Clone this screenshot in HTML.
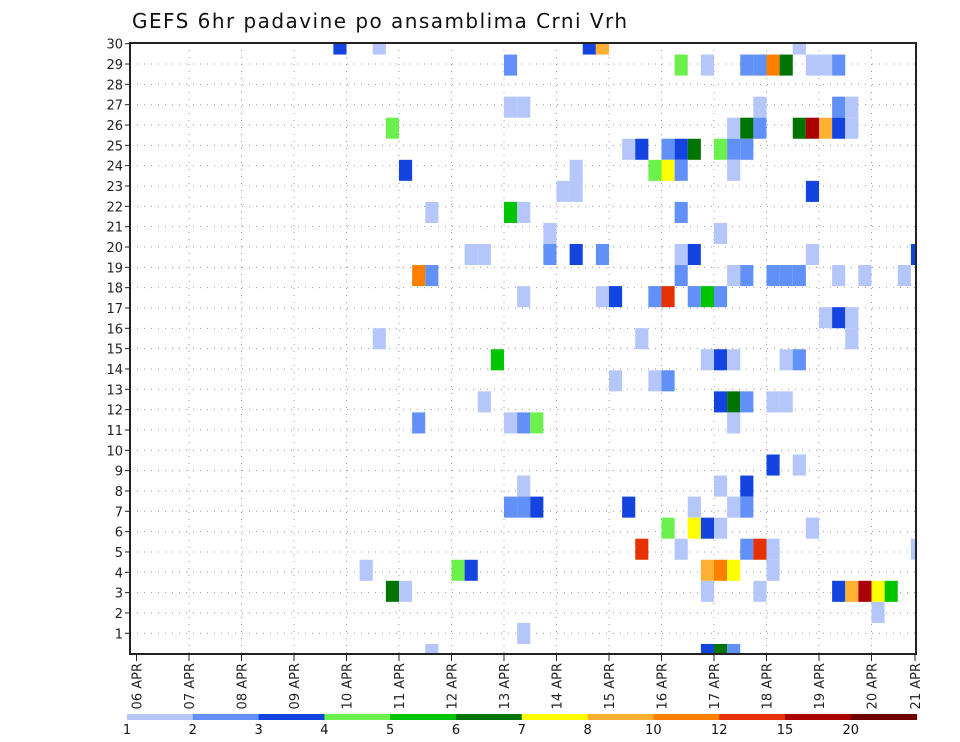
<!DOCTYPE html>
<html><head><meta charset="utf-8"><style>
html,body{margin:0;padding:0;background:#fff;}
svg{display:block;font-family:"DejaVu Sans","Liberation Sans",sans-serif;}
</style></head><body>
<svg id="chart" width="960" height="742" viewBox="0 0 960 742" xmlns="http://www.w3.org/2000/svg">
<text x="132" y="28" font-size="20" textLength="495" lengthAdjust="spacing" fill="#111">GEFS 6hr padavine po ansamblima Crni Vrh</text>
<g id="grid"></g>
<g id="cells"></g>
<rect x="130" y="43" width="786" height="611" fill="none" stroke="#222" stroke-width="2"/>
<g id="yaxis"></g>
<g id="xaxis"></g>
<g id="legend"></g>
</svg>
<script>
// data: member row (0 = top), 6-hour step index from 06 APR 00Z, precip value (mm)
const cellMember = [0,0,0,0,0, 1,1,1,1,1,1,1,1,1,1, 3,3,3,3,3, 4,4,4,4,4,4,4,4,4, 5,5,5,5,5,5,5,5, 6,6,6,6,6,6, 7,7,7, 8,8,8,8, 9,9, 10,10,10,10,10,10,10,10,10, 11,11,11,11,11,11,11,11,11,11,11, 12,12,12,12,12,12,12,12, 13,13,13, 14,14,14, 15,15,15,15,15,15, 16,16,16, 17,17,17,17,17,17, 18,18,18,18,18, 20,20, 21,21,21, 22,22,22,22,22,22,22, 23,23,23,23,23, 24,24,24,24,24,24, 25,25,25,25,25,25,25, 26,26,26,26,26,26,26,26,26, 27, 28, 29,29,29,29];
const cellStep = [15,18,34,35,50, 28,41,43,46,47,48,49,51,52,53, 28,29,47,53,54, 19,45,46,47,50,51,52,53,54, 37,38,40,41,42,44,45,46, 20,33,39,40,41,45, 32,33,51, 22,28,29,41, 31,44, 25,26,31,33,35,41,42,51,59, 21,22,41,45,46,48,49,50,53,55,58, 29,35,36,39,40,42,43,44, 52,53,54, 18,38,54, 27,43,44,45,49,50, 36,39,40, 26,44,45,46,48,49, 21,28,29,30,45, 48,50, 29,44,46, 28,29,30,37,42,45,46, 40,42,43,44,51, 38,41,46,47,48,59, 17,24,25,43,44,45,48, 19,20,43,47,53,54,55,56,57, 56, 29, 22,43,44,45];
const cellValue = [3.5,1.5,3.5,9,1.5, 2.5,4.5,1.5,2.5,2.5,11,6.5,1.5,1.5,2.5, 1.5,1.5,1.5,2.5,1.5, 4.5,1.5,6.5,2.5,6.5,17,9,3.5,1.5, 1.5,3.5,2.5,3.5,6.5,4.5,2.5,2.5, 3.5,1.5,4.5,7.5,2.5,1.5, 1.5,1.5,3.5, 1.5,5.5,1.5,2.5, 1.5,1.5, 1.5,1.5,2.5,3.5,2.5,1.5,3.5,1.5,3.5, 11,2.5,2.5,1.5,2.5,2.5,2.5,2.5,1.5,1.5,1.5, 1.5,1.5,3.5,2.5,13,2.5,5.5,2.5, 1.5,3.5,1.5, 1.5,1.5,1.5, 5.5,1.5,3.5,1.5,1.5,2.5, 1.5,1.5,2.5, 1.5,3.5,6.5,2.5,1.5,1.5, 2.5,1.5,2.5,4.5,1.5, 3.5,1.5, 1.5,1.5,3.5, 2.5,2.5,3.5,3.5,1.5,1.5,2.5, 4.5,7.5,3.5,1.5,1.5, 13,1.5,2.5,13,1.5,1.5, 1.5,4.5,3.5,9,11,7.5,1.5, 6.5,1.5,1.5,1.5,3.5,9,17,7.5,5.5, 1.5, 1.5, 1.5,3.5,6.5,2.5];
const levels = [1,2,3,4,5,6,7,8,10,12,15,20];
const levelColors = ["#b4c6fa","#6090f8","#1444e0","#6cf04c","#00c400","#007400","#ffff00","#ffb030","#ff8000","#e63200","#ac0000","#700000"];
const dayLabels = ["06","07","08","09","10","11","12","13","14","15","16","17","18","19","20","21"];
const memberLabels = [30,29,28,27,26,25,24,23,22,21,20,19,18,17,16,15,14,13,12,11,10,9,8,7,6,5,4,3,2,1];

const NS="http://www.w3.org/2000/svg";
const X0=136.5, DAY=52.5, STEP=DAY/4;
const xDay = d => X0 + d*DAY;
const xStep = s => X0 + s*STEP;
const ROWH=21.05, ROW0=33.5;
const yMember = k => ROW0 + k*ROWH;
const yLabel = i => 43.7 + i*20.33;
const colorFor = v => { let i=0; for(let j=0;j<levels.length;j++){ if(v>=levels[j]) i=j; } return levelColors[i]; };
function mk(tag, attrs, parent){ const e=document.createElementNS(NS,tag); for(const k in attrs) e.setAttribute(k,attrs[k]); parent.appendChild(e); return e; }

const grid=document.getElementById('grid');
for(let i=1;i<=30;i++){
  const l=mk('line',{x1:130,x2:916,y1:yLabel(i),y2:yLabel(i),stroke:'#999','stroke-width':1,'stroke-dasharray':'1,6'},grid);
  
  
}
for(let d=1;d<15;d++){
  const l=mk('line',{x1:xDay(d),x2:xDay(d),y1:43,y2:654,stroke:'#999','stroke-width':1,'stroke-dasharray':'1,6'},grid);
  
  
}

const cells=document.getElementById('cells');
mk('clipPath',{id:'pc'},cells).appendChild(Object.assign(document.createElementNS(NS,'rect'),{}));
document.querySelector('#pc rect').setAttribute('x',130);
document.querySelector('#pc rect').setAttribute('y',43);
document.querySelector('#pc rect').setAttribute('width',786);
document.querySelector('#pc rect').setAttribute('height',611);
const cg=mk('g',{'clip-path':'url(#pc)'},cells);
for(let i=0;i<cellValue.length;i++){
  const r=mk('rect',{x:xStep(cellStep[i]),y:yMember(cellMember[i]),width:STEP,height:ROWH,fill:colorFor(cellValue[i])},cg);
  
  
}

const ya=document.getElementById('yaxis');
memberLabels.forEach((m,i)=>{
  const y=yLabel(i);
  mk('line',{x1:125,x2:130,y1:y,y2:y,stroke:'#222','stroke-width':1},ya);
  const t=mk('text',{x:123,y:y+5,'font-size':13,'text-anchor':'end',fill:'#222'},ya);
  t.textContent=m;
  
  
});

const xa=document.getElementById('xaxis');
dayLabels.forEach((d,i)=>{
  const x=Math.min(xDay(i),915);
  mk('line',{x1:x,x2:x,y1:654,y2:661,stroke:'#222','stroke-width':1},xa);
  const t=mk('text',{x:0,y:0,'font-size':13,'text-anchor':'end',fill:'#222',transform:`translate(${x+5},663) rotate(-90)`},xa);
  t.textContent=d+' APR';
  
  
});

const lg=document.getElementById('legend');
const LX=127, LW=65.8;
levels.forEach((lv,i)=>{
  const r=mk('rect',{x:LX+i*LW,y:714,width:LW+0.5,height:6,fill:levelColors[i]},lg);
  
  
  const t=mk('text',{x:LX+i*LW,y:734,'font-size':13,'text-anchor':'middle',fill:'#111'},lg);
  t.textContent=lv;
  
  
});
</script>
</body></html>
